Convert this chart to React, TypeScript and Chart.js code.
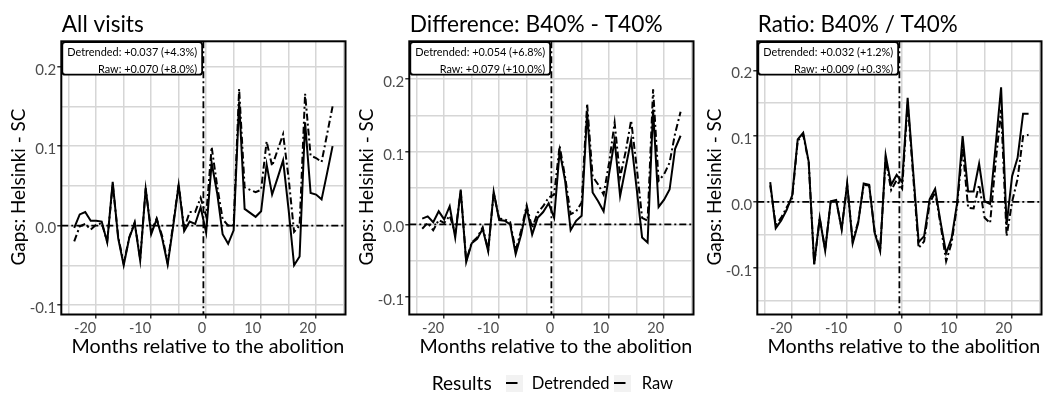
import React, { useEffect, useRef } from 'react';
import { Chart, registerables } from 'chart.js';

Chart.register(...registerables);

// ---------------- data ----------------
const months = [
  -24, -23, -22, -21, -20, -19, -18, -17, -16, -15,
  -14, -13, -12, -11, -10, -9, -8, -7, -6, -5,
  -4, -3, -2, -1, 0, 1, 2, 3, 4, 5,
  6, 7, 8, 9, 10, 11, 12, 13, 14, 15,
  16, 17, 18, 19, 20, 21, 22, 23,
];

const allVisitsDetrended = [
  -0.003, 0.014, 0.017, 0.006, 0.006, 0.005, -0.021, 0.055, -0.016, -0.05,
  -0.016, 0.003, -0.044, 0.047, -0.011, 0.008, -0.016, -0.049, -0.001, 0.051,
  -0.007, 0.005, 0.002, 0.023, -0.009, 0.079, 0.041, -0.011, -0.023, -0.006,
  0.156, 0.021, 0.016, 0.011, 0.018, 0.077, 0.039, 0.06, 0.082, 0.02,
  -0.05, -0.039, 0.13, 0.041, 0.039, 0.033, 0.066, 0.1,
];
const allVisitsRaw = [
  -0.02, -0.001, 0.002, -0.005, 0.001, 0.003, -0.02, 0.052, -0.014, -0.048,
  -0.015, 0.004, -0.042, 0.046, -0.008, 0.009, -0.013, -0.047, 0.002, 0.052,
  -0.004, 0.017, 0.017, 0.035, 0.012, 0.099, 0.05, 0.008, 0.0, 0.001,
  0.172, 0.048, 0.045, 0.042, 0.045, 0.106, 0.075, 0.095, 0.115, 0.06,
  -0.008, 0.0, 0.166, 0.088, 0.085, 0.08, 0.115, 0.15,
];

const differenceDetrended = [
  0.008, 0.011, 0.003, 0.018, 0.007, 0.025, -0.018, 0.048, -0.052, -0.026,
  -0.02, -0.006, -0.037, 0.045, 0.006, 0.005, 0.0, -0.041, -0.014, 0.023,
  -0.014, 0.009, 0.017, 0.029, 0.009, 0.101, 0.06, -0.008, 0.005, 0.012,
  0.155, 0.044, 0.032, 0.018, 0.07, 0.116, 0.039, 0.078, 0.116, 0.05,
  -0.018, -0.025, 0.158, 0.024, 0.034, 0.048, 0.104, 0.122,
];
const differenceRaw = [
  -0.006, 0.002, -0.008, 0.006, 0.002, 0.012, -0.012, 0.046, -0.05, -0.025,
  -0.018, -0.004, -0.035, 0.043, 0.008, 0.007, 0.003, -0.036, -0.008, 0.026,
  -0.005, 0.016, 0.025, 0.037, 0.041, 0.108, 0.065, 0.014, 0.018, 0.03,
  0.166, 0.066, 0.055, 0.041, 0.085, 0.14, 0.065, 0.1, 0.143, 0.08,
  0.009, 0.005, 0.186, 0.06, 0.069, 0.085, 0.125, 0.155,
];

const ratioDetrended = [
  0.03, -0.04, -0.028, -0.012, 0.01, 0.095, 0.105, 0.061, -0.095, -0.024,
  -0.074, 0.001, 0.003, -0.042, 0.028, -0.063, -0.032, 0.028, 0.026, -0.047,
  -0.075, 0.071, 0.026, 0.041, 0.03, 0.158, 0.047, -0.061, -0.052, 0.004,
  0.02, -0.031, -0.078, -0.055, -0.002, 0.1, 0.016, 0.016, 0.058, 0.001,
  -0.003, 0.085, 0.174, -0.035, 0.039, 0.067, 0.134, 0.134,
];
const ratioRaw = [
  0.025, -0.035, -0.024, -0.008, 0.006, 0.093, 0.102, 0.06, -0.094, -0.025,
  -0.072, 0.0, 0.002, -0.04, 0.026, -0.06, -0.03, 0.026, 0.025, -0.045,
  -0.072, 0.065, 0.018, 0.033, 0.02, 0.15, 0.04, -0.07, -0.06, -0.002,
  0.015, -0.035, -0.09, -0.062, -0.005, 0.082, -0.009, -0.01, 0.026, -0.024,
  -0.032, 0.06, 0.14, -0.052, 0.0, 0.035, 0.1, 0.102,
];

const panelTitles = ['All visits', 'Difference: B40% - T40%', 'Ratio: B40% / T40%'];
const detrendedLabels = [
  'Detrended: +0.037 (+4.3%)',
  'Detrended: +0.054 (+6.8%)',
  'Detrended: +0.032 (+1.2%)',
];
const rawLabels = ['Raw: +0.070 (+8.0%)', 'Raw: +0.079 (+10.0%)', 'Raw: +0.009 (+0.3%)'];
const seriesNames = ['Detrended', 'Raw'];
const legendTitle = 'Results';
const xAxisTitle = 'Months relative to the abolition';
const yAxisTitle = 'Gaps: Helsinki - SC';
const treatmentMonth = -0.5;

const xTickValues = [-25, -20, -15, -10, -5, 0, 5, 10, 15, 20, 25];
const yTickValues = [-0.15, -0.1, -0.05, 0, 0.05, 0.1, 0.15, 0.2];
const xRange = [-26.35, 25.35];
const yRanges = [
  [-0.112, 0.232],
  [-0.124, 0.252],
  [-0.171, 0.244],
];

const detrendedSeries = [allVisitsDetrended, differenceDetrended, ratioDetrended];
const rawSeries = [allVisitsRaw, differenceRaw, ratioRaw];

// ---------------- styling ----------------
const FONT = 'Lato';
const W = 348;
const H = 394;
const DOTDASH = [7, 3, 2, 3];
const titleWidths = [82, 253, 200];

function fitSize(ctx: CanvasRenderingContext2D, text: string, width: number) {
  ctx.font = `100px ${FONT}`;
  return (100 * width) / ctx.measureText(text).width;
}

function roundRectPath(ctx: CanvasRenderingContext2D, x: number, y: number, w: number, h: number, r: number) {
  ctx.beginPath();
  ctx.moveTo(x + r, y);
  ctx.lineTo(x + w - r, y);
  ctx.quadraticCurveTo(x + w, y, x + w, y + r);
  ctx.lineTo(x + w, y + h - r);
  ctx.quadraticCurveTo(x + w, y + h, x + w - r, y + h);
  ctx.lineTo(x + r, y + h);
  ctx.quadraticCurveTo(x, y + h, x, y + h - r);
  ctx.lineTo(x, y + r);
  ctx.quadraticCurveTo(x, y, x + r, y);
  ctx.closePath();
}

function makePlugin(p: number) {
  return {
    id: 'decor' + p,
    afterDatasetsDraw(chart: any) {
      const { ctx, chartArea: a, scales } = chart;
      const xs = scales.x;
      const ys = scales.y;
      ctx.save();

      // reference lines
      ctx.strokeStyle = '#000';
      ctx.lineWidth = 1.8;
      ctx.setLineDash(DOTDASH);
      const y0 = ys.getPixelForValue(0);
      ctx.beginPath();
      ctx.moveTo(a.left, y0);
      ctx.lineTo(a.right, y0);
      ctx.stroke();
      const xv = xs.getPixelForValue(treatmentMonth);
      ctx.beginPath();
      ctx.moveTo(xv, a.top);
      ctx.lineTo(xv, a.bottom);
      ctx.stroke();
      ctx.setLineDash([]);

      // panel border
      ctx.lineWidth = 2;
      ctx.strokeRect(a.left, a.top, a.right - a.left, a.bottom - a.top);

      // annotation box
      const annSize = fitSize(ctx, detrendedLabels[p], 130);
      ctx.font = `${annSize}px ${FONT}`;
      const w1 = ctx.measureText(detrendedLabels[p]).width;
      const w2 = ctx.measureText(rawLabels[p]).width;
      const bw = Math.max(w1, w2) + 10;
      const bx = a.left + 1;
      const by = a.top + 0.8;
      const bh = 32.6;
      roundRectPath(ctx, bx, by, bw, bh, 3);
      ctx.fillStyle = '#fff';
      ctx.fill();
      ctx.lineWidth = 1.8;
      ctx.strokeStyle = '#000';
      ctx.stroke();
      ctx.fillStyle = '#000';
      ctx.textAlign = 'right';
      ctx.textBaseline = 'alphabetic';
      ctx.fillText(detrendedLabels[p], bx + bw - 5, a.top + 15);
      ctx.fillText(rawLabels[p], bx + bw - 5, a.top + 31.6);

      // panel title
      ctx.font = `${fitSize(ctx, panelTitles[p], titleWidths[p])}px ${FONT}`;
      ctx.textAlign = 'left';
      ctx.fillText(panelTitles[p], a.left + 0.5, 31.7);

      // x axis title
      ctx.font = `${fitSize(ctx, xAxisTitle, 273)}px ${FONT}`;
      ctx.textAlign = 'center';
      ctx.fillText(xAxisTitle, (a.left + a.right) / 2 + 4.5, 353.3);

      // y axis title
      ctx.font = `${fitSize(ctx, yAxisTitle, 157)}px ${FONT}`;
      ctx.save();
      ctx.translate(25, 187);
      ctx.rotate(-Math.PI / 2);
      ctx.textAlign = 'center';
      ctx.fillText(yAxisTitle, 0, 0);
      ctx.restore();

      // shared legend (drawn in the middle panel)
      if (p === 1) {
        ctx.textAlign = 'left';
        ctx.fillStyle = '#000';
        ctx.font = `${fitSize(ctx, legendTitle, 60)}px ${FONT}`;
        ctx.fillText(legendTitle, 83.7, 389.5);
        const labSize = fitSize(ctx, seriesNames[0], 78);
        const keyX = [158, 266];
        const textX = [183.7, 293.7];
        for (let i = 0; i < 2; i++) {
          ctx.fillStyle = '#f2f2f2';
          ctx.fillRect(keyX[i], 375, 17, 17);
          ctx.strokeStyle = '#000';
          ctx.lineWidth = 2;
          ctx.beginPath();
          ctx.moveTo(keyX[i], 383);
          ctx.lineTo(keyX[i] + 11.5, 383);
          ctx.stroke();
          ctx.fillStyle = '#000';
          ctx.font = `${labSize}px ${FONT}`;
          ctx.fillText(seriesNames[i], textX[i], 388.7);
        }
      }
      ctx.restore();
    },
  };
}

function isMajorX(v: number) {
  return Math.abs(v % 10) < 1e-9;
}
function isMajorY(v: number) {
  return Math.abs(Math.round(v * 100) % 10) === 0;
}

function buildConfig(p: number): any {
  const det = detrendedSeries[p];
  const raw = rawSeries[p];
  return {
    type: 'line',
    data: {
      datasets: [
        {
          label: seriesNames[0],
          data: months.map((m, i) => ({ x: m, y: det[i] })),
          borderColor: '#000',
          borderWidth: 2,
          pointRadius: 0,
          tension: 0,
          fill: false,
        },
        {
          label: seriesNames[1],
          data: months.map((m, i) => ({ x: m, y: raw[i] })),
          borderColor: '#000',
          borderWidth: 2,
          borderDash: DOTDASH,
          pointRadius: 0,
          tension: 0,
          fill: false,
        },
      ],
    },
    options: {
      animation: false,
      responsive: false,
      devicePixelRatio: 1,
      layout: { padding: { left: 0, top: 41.3, right: 2.5, bottom: 0 } },
      plugins: { legend: { display: false }, tooltip: { enabled: false }, title: { display: false } },
      scales: {
        x: {
          type: 'linear',
          min: xRange[0],
          max: xRange[1],
          bounds: 'data',
          afterBuildTicks: (s: any) => {
            s.ticks = xTickValues.map((v) => ({ value: v }));
          },
          afterFit: (s: any) => {
            s.height = H - 314.5;
          },
          border: { display: false },
          grid: {
            color: '#d6d6d6',
            lineWidth: 1.5,
            drawTicks: true,
            tickLength: 4,
            tickWidth: 1.5,
            tickColor: (c: any) => (c.tick && isMajorX(c.tick.value) ? '#333' : 'rgba(0,0,0,0)'),
          },
          ticks: {
            autoSkip: false,
            maxRotation: 0,
            minRotation: 0,
            align: 'end',
            padding: 1,
            color: '#4d4d4d',
            font: { family: FONT, size: 14.5 },
            callback: (v: number) => (isMajorX(v) ? String(v) : ''),
          },
        },
        y: {
          type: 'linear',
          min: yRanges[p][0],
          max: yRanges[p][1],
          bounds: 'data',
          afterBuildTicks: (s: any) => {
            s.ticks = yTickValues
              .filter((v) => v > yRanges[p][0] && v < yRanges[p][1])
              .map((v) => ({ value: v }));
          },
          afterFit: (s: any) => {
            s.width = 61.3;
          },
          border: { display: false },
          grid: {
            color: '#d6d6d6',
            lineWidth: 1.5,
            drawTicks: true,
            tickLength: 4,
            tickWidth: 1.5,
            tickColor: (c: any) => (c.tick && isMajorY(c.tick.value) ? '#333' : 'rgba(0,0,0,0)'),
          },
          ticks: {
            autoSkip: false,
            padding: 1,
            labelOffset: 3,
            color: '#4d4d4d',
            font: { family: FONT, size: 15 },
            callback: (v: number) => (isMajorY(v) ? v.toFixed(1) : ''),
          },
        },
      },
    },
    plugins: [makePlugin(p)],
  };
}

function Panel({ index }: { index: number }) {
  const ref = useRef<HTMLCanvasElement | null>(null);
  useEffect(() => {
    if (!ref.current) return;
    const chart = new Chart(ref.current, buildConfig(index));
    return () => chart.destroy();
  }, [index]);
  return (
    <canvas
      ref={ref}
      width={W}
      height={H}
      style={{ position: 'absolute', left: index * W, top: 0, width: W, height: H }}
    />
  );
}

export default function App() {
  return (
    <div
      style={{
        position: 'absolute',
        left: 0,
        top: 0,
        width: 1044,
        height: 394,
        background: '#fff',
        overflow: 'hidden',
      }}
    >
      {[0, 1, 2].map((i) => (
        <Panel key={i} index={i} />
      ))}
    </div>
  );
}
